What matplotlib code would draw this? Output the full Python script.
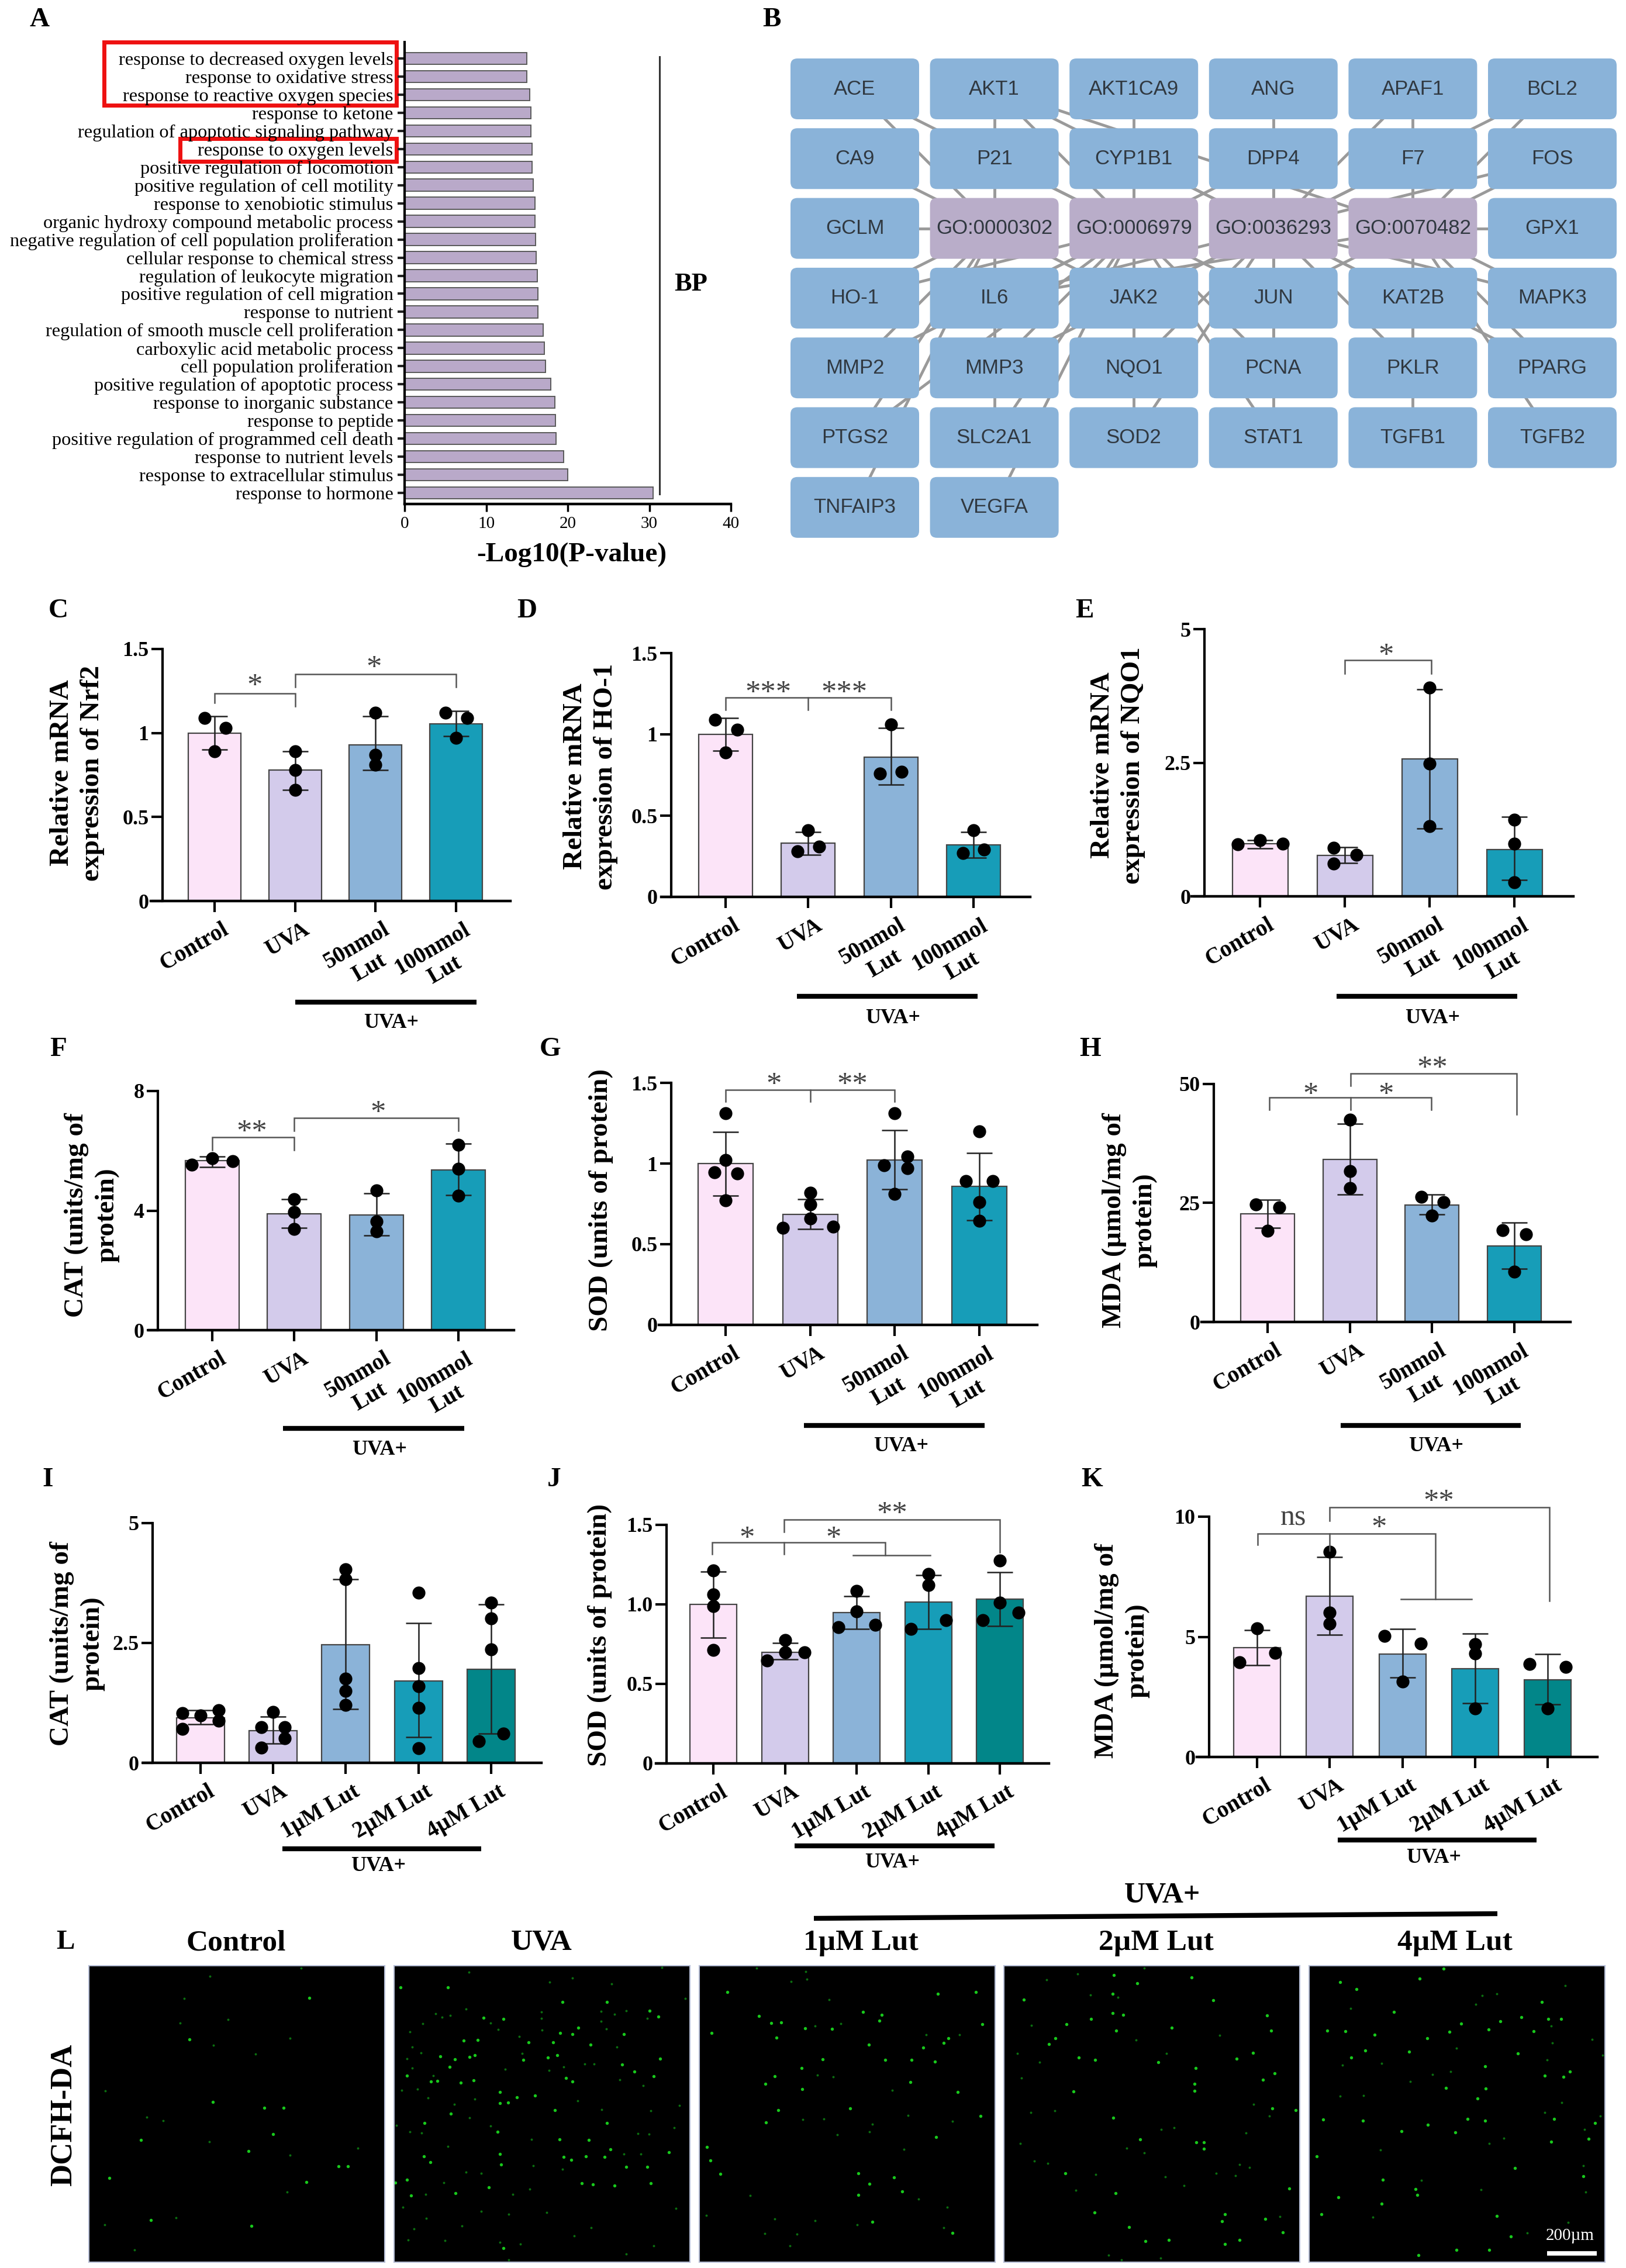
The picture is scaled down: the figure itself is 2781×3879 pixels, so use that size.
import matplotlib
matplotlib.use("Agg")
import matplotlib.pyplot as plt
from matplotlib.patches import FancyBboxPatch, Rectangle
from matplotlib.transforms import ScaledTranslation

plt.rcParams['font.family'] = ['Liberation Serif', 'DejaVu Serif']

W, H = 2781, 3879

# panel A
go_terms = ["response to decreased oxygen levels", "response to oxidative stress",
            "response to reactive oxygen species", "response to ketone",
            "regulation of apoptotic signaling pathway", "response to oxygen levels",
            "positive regulation of locomotion", "positive regulation of cell motility",
            "response to xenobiotic stimulus", "organic hydroxy compound metabolic process",
            "negative regulation of cell population proliferation", "cellular response to chemical stress",
            "regulation of leukocyte migration", "positive regulation of cell migration",
            "response to nutrient", "regulation of smooth muscle cell proliferation",
            "carboxylic acid metabolic process", "cell population proliferation",
            "positive regulation of apoptotic process", "response to inorganic substance",
            "response to peptide", "positive regulation of programmed cell death",
            "response to nutrient levels", "response to extracellular stimulus", "response to hormone"]
go_values = [15.0, 15.0, 15.35, 15.5, 15.5, 15.6, 15.65, 15.8, 16.0, 16.0, 16.05, 16.1, 16.25,
             16.35, 16.35, 17.0, 17.1, 17.3, 17.9, 18.45, 18.5, 18.6, 19.5, 20.0, 30.5]

# panel B
node_grid = [["ACE", "AKT1", "AKT1CA9", "ANG", "APAF1", "BCL2"],
             ["CA9", "P21", "CYP1B1", "DPP4", "F7", "FOS"],
             ["GCLM", "GO:0000302", "GO:0006979", "GO:0036293", "GO:0070482", "GPX1"],
             ["HO-1", "IL6", "JAK2", "JUN", "KAT2B", "MAPK3"],
             ["MMP2", "MMP3", "NQO1", "PCNA", "PKLR", "PPARG"],
             ["PTGS2", "SLC2A1", "SOD2", "STAT1", "TGFB1", "TGFB2"],
             ["TNFAIP3", "VEGFA"]]
go_nodes = ["GO:0000302", "GO:0006979", "GO:0036293", "GO:0070482"]
gene_links = {"ACE": [0, 1], "AKT1": [0, 1, 2, 3], "AKT1CA9": [1], "ANG": [2], "APAF1": [2, 3], "BCL2": [2, 3],
              "CA9": [0], "P21": [0, 1], "CYP1B1": [1, 2], "DPP4": [1, 2], "F7": [2, 3], "FOS": [2, 3],
              "GCLM": [0], "GPX1": [3], "HO-1": [0, 1], "IL6": [0, 1, 2, 3], "JAK2": [0, 1, 2], "JUN": [1, 2, 3],
              "KAT2B": [2, 3], "MAPK3": [2, 3], "MMP2": [0, 1], "MMP3": [0, 1, 2], "NQO1": [1, 2], "PCNA": [1, 2],
              "PKLR": [2, 3], "PPARG": [2, 3], "PTGS2": [0, 1], "SLC2A1": [0, 1], "SOD2": [1, 2], "STAT1": [1, 2],
              "TGFB1": [3], "TGFB2": [3], "TNFAIP3": [0], "VEGFA": [1]}

nmol_labels = ["Control", "UVA", "50nmol\nLut", "100nmol\nLut"]
um_labels = ["Control", "UVA", "1µM Lut", "2µM Lut", "4µM Lut"]

# panel C
C_means = [1.0, 0.78, 0.93, 1.055]
C_low = [0.90, 0.66, 0.78, 0.98]
C_high = [1.10, 0.89, 1.10, 1.13]
C_points = [[1.09, 1.03, 0.89], [0.89, 0.78, 0.66], [1.12, 0.87, 0.81], [1.12, 1.09, 0.97]]
C_jitter = [[-.125, .14, 0], [0, 0, 0], [0, 0, 0], [-.13, .14, 0]]
C_brackets = [([0, 0, 1, 1], [1.18, 1.235, 1.235, 1.16]), ([1, 1, 3, 3], [1.275, 1.35, 1.35, 1.275])]
C_stars = [(.5, 1.31, "*"), (1.98, 1.42, "*")]

# panel D
D_means = [1.0, 0.33, 0.86, 0.32]
D_low = [0.90, 0.26, 0.69, 0.24]
D_high = [1.10, 0.40, 1.04, 0.40]
D_points = [[1.09, 1.03, 0.89], [0.41, 0.31, 0.28], [1.06, 0.76, 0.77], [0.41, 0.29, 0.27]]
D_jitter = [[-.13, .14, 0], [0, .13, -.13], [0, -.13, .13], [0, .13, -.13]]
D_brackets = [([0, 0, 2, 2], [1.15, 1.226, 1.226, 1.15]), ([1, 1], [1.226, 1.15])]
D_stars = [(.52, 1.285, "***"), (1.44, 1.285, "***")]

# panel E
E_means = [0.98, 0.77, 2.57, 0.88]
E_low = [0.90, 0.62, 1.27, 0.31]
E_high = [1.05, 0.92, 3.87, 1.49]
E_points = [[0.97, 1.05, 0.98], [0.91, 0.78, 0.61], [3.91, 2.48, 1.31], [1.43, 0.99, 0.26]]
E_jitter = [[-.26, 0, .27], [-.13, .14, -.13], [0, 0, 0], [0, 0, 0]]
E_brackets = [([1, 1, 2.02, 2.02], [4.17, 4.42, 4.42, 4.17])]
E_stars = [(1.49, 4.6, "*")]

# panel F
F_means = [5.67, 3.89, 3.86, 5.36]
F_low = [5.45, 3.43, 3.16, 4.52]
F_high = [5.8, 4.39, 4.58, 6.24]
F_points = [[5.53, 5.75, 5.65], [4.38, 3.96, 3.38], [4.67, 3.63, 3.3], [6.2, 5.4, 4.5]]
F_jitter = [[-.25, 0, .25], [0, 0, 0], [0, 0, 0], [0, 0, 0]]
F_brackets = [([0, 0, 1, 1], [6.03, 6.45, 6.45, 6.03]), ([1, 1, 3, 3], [6.67, 7.1, 7.1, 6.67])]
F_stars = [(.48, 6.8, "**"), (2.02, 7.45, "*")]

# panel G
G_means = [1.0, 0.685, 1.02, 0.86]
G_low = [0.80, 0.595, 0.84, 0.65]
G_high = [1.195, 0.78, 1.207, 1.065]
G_points = [[1.31, 1.02, .945, .94, .77], [.82, .745, .66, .6, .61], [1.31, 1.045, .99, .97, .81], [1.2, .89, .89, .76, .645]]
G_jitter = [[0, 0, -.13, .14, 0], [0, 0, 0, -.32, .27], [0, .15, -.13, .15, 0], [0, -.16, .16, 0, 0]]
G_brackets = [([0, 0, 2, 2], [1.385, 1.455, 1.455, 1.385]), ([1, 1], [1.455, 1.385])]
G_stars = [(.57, 1.52, "*"), (1.5, 1.52, "**")]

# panel H
H_means = [22.65, 34.1, 24.5, 16.0]
H_low = [19.8, 26.7, 22.6, 11.2]
H_high = [25.6, 41.6, 26.7, 20.9]
H_points = [[24.7, 24.05, 19.2], [42.4, 31.7, 28.1], [26.25, 25.2, 22.3], [19.3, 18.4, 10.5]]
H_jitter = [[-.14, .14, 0], [0, 0, 0], [-.13, .14, 0], [-.14, .14, 0]]
H_brackets = [([.02, .02, 1.99, 1.99], [44.5, 47.1, 47.1, 44.5]), ([1.01, 1.01], [47.1, 44.5]),
              ([1.01, 1.01, 3.03, 3.03], [49.6, 52.1, 52.1, 43.6])]
H_stars = [(.52, 48.8, "*"), (1.44, 48.8, "*"), (2.0, 54.3, "**")]

# panel I
I_means = [.94, .67, 2.46, 1.70, 1.95]
I_low = [.80, .40, 1.12, .53, .61]
I_high = [1.10, .96, 3.82, 2.91, 3.30]
I_points = [[1.10, 1.04, .99, .88, .71], [1.06, .74, .74, .51, .32], [4.03, 3.82, 1.75, 1.5, 1.21],
            [3.54, 1.97, 1.59, 1.14, .31], [3.34, 3.01, 2.36, .61, .45]]
I_jitter = [[.25, -.25, 0, .25, -.25], [0, -.16, .16, .16, -.16], [0, 0, 0, 0, 0], [0, 0, 0, 0, 0], [0, 0, 0, .17, -.17]]

# panel J
J_means = [1.0, .70, .947, 1.013, 1.033]
J_low = [.79, .653, .847, .847, .865]
J_high = [1.205, .756, 1.052, 1.184, 1.202]
J_points = [[1.215, 1.063, .99, .715], [.774, .70, .70, .647], [1.084, .957, .87, .857],
            [1.19, 1.12, .90, .845], [1.275, 1.01, .947, .90]]
J_jitter = [[0, 0, 0, 0], [0, 0, .27, -.25], [0, 0, .26, -.25], [0, 0, .25, -.24], [0, 0, .26, -.24]]
J_brackets = [([-.02, -.02, 2.4, 2.4], [1.318, 1.39, 1.39, 1.31]), ([.99, .99], [1.39, 1.318]), ([1.95, 3.03], [1.31, 1.31]),
              ([.99, .99, 4, 4], [1.455, 1.532, 1.532, 1.327])]
J_stars = [(.47, 1.446, "*"), (1.68, 1.446, "*"), (2.5, 1.60, "**")]

# panel K
K_means = [4.55, 6.69, 4.29, 3.67, 3.20]
K_low = [3.81, 5.08, 3.31, 2.23, 2.18]
K_high = [5.28, 8.33, 5.32, 5.13, 4.29]
K_points = [[5.35, 4.32, 3.94], [8.54, 6.0, 5.54], [5.04, 4.72, 3.15], [4.7, 4.3, 2.03], [3.88, 3.75, 2.03]]
K_jitter = [[0, .25, -.24], [0, 0, 0], [-.25, .25, 0], [0, 0, 0], [-.25, .25, 0]]
K_brackets = [([.01, .01, 2.45, 2.45], [8.83, 9.30, 9.30, 6.57]), ([1, 1], [9.30, 8.6]), ([1.98, 2.95], [6.57, 6.57]),
              ([1, 1, 4.02, 4.02], [9.83, 10.38, 10.38, 6.5])]
K_stars = [(.5, 9.95, "ns"), (1.68, 9.74, "*"), (2.5, 10.83, "**")]

# panel L, spot positions
L_titles = ["Control", "UVA", "1µM Lut", "2µM Lut", "4µM Lut"]
L1_bright = [(592,532),(209,1221),(481,1407),(289,1383),(587,1238),(270,1076),(408,931),(543,953),(506,953),(523,1054),
             (476,1120),(648,1177),(666,1177),(363,690)]
L1_dim = [(577,418),(402,448),(353,533),(345,628),(437,615),(555,685),(409,713),(489,747),(201,887),(281,988),(312,1003),
          (401,1083),(555,1135),(686,1107),(550,1276),(337,1375),(200,1402),(257,1497)]
L2_bright = [(858,492),(767,490),(1163,548),(1245,580),(1262,603),(1195,670),(1013,701),(1060,702),(780,830),(883,857),
             (1097,851),(1085,838),(958,1129),(1080,1142),(1095,1152),(1158,1142),(1200,1180),(1240,1180),(1115,1242),
             (1136,1247),(1178,1252),(1247,1242),(936,1257),(873,1281),(787,1290),(960,1170),(813,1012),(927,607),(965,612),
             (1078,547),(1108,645),(1073,665),(1097,670),(1132,710),(1003,770),(1050,760),(1068,750),(958,893),(990,912),
             (1025,906),(973,932),(958,936),(864,975),(1063,962),(1163,1012),(953,1045),(1072,1074),(1128,1077),(1170,1112),
             (1122,1140),(1282,1123),(812,1140),(825,1162),(780,1228),(757,1240),(1215,813),(1253,832),(907,848),(838,850),
             (826,852),(862,797),(888,695),(915,692),(910,750),(900,757),(872,767),(843,755),(1192,786),(1265,765),(965,1492)]
L2_dim = [(898,433),(1097,455),(1053,470),(1172,477),(1268,415),(1313,533),(893,575),(835,592),(847,605),(863,598),(1037,585),
          (1037,610),(1152,582),(1178,595),(1200,580),(1152,622),(810,630),(785,662),(940,628),(955,652),(995,680),(1162,650),
          (1038,655),(1240,610),(790,720),(807,742),(780,765),(1182,720),(1000,745),(830,830),(790,800),(968,805),(1052,810),
          (1080,795),(1120,785),(1138,785),(1232,867),(1188,845),(770,885),(800,882),(820,915),(910,920),(870,940),(900,990),
          (1107,925),(1153,960),(1247,965),(1302,945),(760,1020),(785,1045),(808,1050),(940,1022),(1222,1052),(1244,1053),
          (1292,1030),(1018,1073),(858,1100),(1195,1130),(1228,1130),(1022,1176),(1078,1188),(893,1200),(922,1205),(850,1240),
          (815,1285),(982,1285),(1015,1265),(772,1335),(922,1350),(975,1360),(1047,1355),(1295,1338),(817,1377),(793,1417),
          (885,1405),(1133,1412),(853,1463),(958,1468),(1100,1445),(1253,1482),(997,1475),(1200,1513),(975,1537),(782,1460)]
L3_bright = [(-152,510),(-92,600),(-68,628),(-49,625),(-182,665),(-58,683),(-3,647),(-10,800),(-62,832),(-80,860),(-9,882),
             (-55,963),(-79,1010),(-192,1103),(-185,1155),(-166,1207),(250,515),(323,510),(107,585),(143,597),(138,618),
             (335,632),(48,650),(270,685),(262,705),(118,710),(222,722),(30,767),(150,770),(200,770),(245,775),(198,855),
             (288,892),(83,955),(332,985),(247,1065),(98,1205),(167,1219),(120,1245),(98,1287),(182,1273),(125,1390),(278,1432)]
L3_dim = [(-109,1290),(-193,1365),(-62,1380),(-19,1438),(-33,1483),(16,1385),(-81,1435),(-30,468),(-2,430),(-96,418),(-8,997),
          (228,672),(292,672),(20,828),(50,833),(163,885),(193,983),(32,995),(278,1005),(125,1015),(120,1045),(58,1055),
          (185,1112),(213,1303),(268,1335),(96,1402),(262,1412),(42,538),(65,630),(15,640),(0,460)]
L4_bright = [(736,452),(415,538),(585,515),(778,540),(587,443),(632,475),(605,597),(585,590),(880,598),(497,632),(698,645),
             (888,658),(475,687),(520,760),(551,769),(672,778),(895,821),(742,860),(742,888),(510,890),(935,962),(890,955),
             (586,992),(638,1075),(760,1085),(745,1085),(760,1110),(591,1280),(550,1355),(800,1360),(794,1388),(877,1380),
             (923,1262),(911,1430),(616,1410),(648,1465),(692,1460),(800,1475),(828,1460),(544,612),(592,657),(463,708),
             (854,742),(822,765),(744,800),(872,845),(495,1205)]
L4_dim = [(518,440),(645,418),(459,462),(542,520),(595,530),(430,637),(630,692),(790,675),(688,745),(403,745),(445,777),(410,838),
          (855,940),(428,970),(474,965),(885,985),(702,1030),(678,1035),(840,1050),(408,1090),(612,1108),(645,1125),(435,1158),
          (461,1165),(828,1170),(847,1182),(783,1205),(820,1212),(553,1208),(686,1218),(722,1252),(515,1270),(577,1518),(602,1535),
          (677,1530),(905,1370)]
L5_bright = [(1218,420),(1172,458),(1020,470),(1052,498),(1406,548),(1123,585),(1327,622),(1367,605),(996,658),(1030,660),(1252,630),
             (1304,653),(1229,662),(1086,673),(1187,685),(1068,733),(1152,737),(1042,760),(1360,745),(1412,830),(1448,833),(1223,877),
             (1299,880),(1283,918),(988,997),(1064,1003),(1188,1018),(1264,995),(1298,1003),(1138,1043),(1430,995),(1241,1047),
             (1496,1072),(1424,1083),(975,1140),(1355,1183),(1102,1228),(1486,1216),(1165,1265),(1168,1288),(1017,1297),(1100,1320),
             (1320,1367),(985,1360),(1347,1447),(1170,1517),(1305,1498),(1243,1497),(1390,660),(1418,612),(1443,612),(1460,815),
             (1298,793),(1508,1012)]
L5_dim = [(1451,485),(1292,522),(1320,515),(1280,555),(1040,572),(1424,640),(1502,690),(1426,705),(1243,725),(1523,752),(1416,770),
          (1100,783),(1025,790),(1197,825),(1232,813),(1155,852),(1065,905),(1020,908),(1444,932),(1412,970),(1518,985),(1488,1037),
          (1334,1070),(1305,1090),(1098,1115),(1290,1268),(1176,1232),(1490,1275),(1083,1372),(1457,1393),(1378,1432),(1486,1175)]

bar_colors = ["#fce4f8", "#d3cbeb", "#8bb3d8", "#179db8", "#028689"]
bar_colors4 = ["#fce4f8", "#d3cbeb", "#8bb3d8", "#179db8"]

fig = plt.figure(figsize=(W / 100, H / 100), dpi=100)

# full-figure layer in image pixels, for panel letters and group labels
canvas = fig.add_axes([0, 0, 1, 1])
canvas.set_xlim(0, W)
canvas.set_ylim(H, 0)
canvas.axis("off")


def make_axes(left, right, base, top):
    return fig.add_axes([left / W, 1 - base / H, (right - left) / W, (base - top) / H], facecolor="none")


def letter(x, y, s):
    canvas.text(x, y, s, fontsize=34, fontweight="bold", ha="center", va="center")


def uva_group(x0, x1, y, tx, ty):
    canvas.plot([x0, x1], [y, y], color="black", lw=6, solid_capstyle="butt")
    canvas.text(tx, ty, "UVA+", fontsize=26, fontweight="bold", ha="center", va="center")


def bar_panel(means, low, high, points, jitter, labels, colors, yticks, yticklabels, ylim,
              yaxis_px, left_px, right_px, base_px, top_px, first_px, pitch_px, width_px,
              ylabel, ylabel_xy, brackets=(), stars=()):
    ax = make_axes(left_px, right_px, base_px, top_px)
    ax.set_xlim((left_px - first_px) / pitch_px, (right_px - first_px) / pitch_px)
    ax.set_ylim(0, ylim)
    xs = list(range(len(means)))

    ax.bar(xs, means, width=width_px / pitch_px, color=colors, edgecolor="#444444", linewidth=1.6, zorder=2, clip_on=False)
    lower = [m - l for m, l in zip(means, low)]
    upper = [h - m for m, h in zip(means, high)]
    ax.errorbar(xs, means, yerr=[lower, upper], fmt="none", ecolor="#222222", elinewidth=1.8,
                capsize=16, capthick=1.8, zorder=3, clip_on=False)
    for i, (vals, jit) in enumerate(zip(points, jitter)):
        ax.plot([i + j for j in jit], vals, "o", color="black", ms=16, mew=0, zorder=4, clip_on=False)

    for bx, by in brackets:
        ax.plot(bx, by, color="#555555", lw=1.8, clip_on=False, zorder=5, solid_joinstyle="miter")
    for sx, sy, s in stars:
        off = -9 if s == "ns" else -17
        size = 36 if s == "ns" else 38
        ax.annotate(s, (sx, sy), xytext=(0, off), textcoords="offset points", ha="center", va="baseline",
                    fontsize=size, color="#444444", annotation_clip=False)

    for side in ["top", "right"]:
        ax.spines[side].set_visible(False)
    ax.spines["left"].set_position(("data", (yaxis_px - first_px) / pitch_px))
    ax.spines["left"].set_linewidth(3)
    ax.spines["bottom"].set_linewidth(3.2)
    ax.set_yticks(yticks, yticklabels, fontsize=26, fontweight="bold")
    ax.tick_params(axis="y", length=14, width=3, pad=3)
    ax.set_xticks(xs, labels, fontsize=28, fontweight="bold", rotation=30, ha="right", va="top",
                  rotation_mode="anchor", multialignment="center")
    ax.tick_params(axis="x", length=14, width=3, pad=8)
    shift = ScaledTranslation(12 / 100, 0, fig.dpi_scale_trans)
    for lab in ax.get_xticklabels():
        lab.set_transform(lab.get_transform() + shift)

    canvas.text(ylabel_xy[0], ylabel_xy[1], ylabel, rotation=90, fontsize=34, fontweight="bold",
                ha="center", va="center", multialignment="center", linespacing=1.3)
    return ax


# A
ax = make_axes(692, 1250, 862, 72)
ypos = list(range(len(go_terms)))
ax.barh(ypos, go_values, height=0.66, color="#b9a9c9", edgecolor="#5a5a5a", linewidth=1.4)
ax.set_xlim(0, 40)
# bar centres run from 100 px to 843 px
pitch = (843 - 100) / 24
ax.set_ylim(24 + (862 - 843) / pitch, -(100 - 72) / pitch)
for side in ["top", "right"]:
    ax.spines[side].set_visible(False)
ax.spines["left"].set_linewidth(3)
ax.spines["bottom"].set_linewidth(3.2)
ax.set_yticks(ypos, go_terms, fontsize=23.3)
ax.set_xticks([0, 10, 20, 30, 40], ["0", "10", "20", "30", "40"], fontsize=21)
ax.tick_params(axis="y", length=9, width=3, pad=5, color="#222222")
ax.tick_params(axis="x", length=9, width=2.5, pad=6)
canvas.add_patch(Rectangle((178, 72), 500, 108, fill=False, edgecolor="#ee1111", lw=5))
canvas.add_patch(Rectangle((308, 237), 370, 39, fill=False, edgecolor="#ee1111", lw=5))
canvas.plot([1128, 1128], [97, 845], color="#333333", lw=2.2)
canvas.text(1182, 486, "BP", fontsize=32, fontweight="bold", ha="center", va="center")
canvas.text(978, 949, "-Log10(P-value)", fontsize=34, fontweight="bold", ha="center", va="center")
letter(68, 34, "A")

# B
box_w, box_h = 220, 104
node_x0, node_y0 = 1352, 100
pitch_x, pitch_y = 238.6, 119.3
node_pos = {}
for r, row in enumerate(node_grid):
    for c, name in enumerate(row):
        node_pos[name] = (node_x0 + c * pitch_x + box_w / 2, node_y0 + r * pitch_y + box_h / 2)
for gene, links in gene_links.items():
    for g in links:
        gx, gy = node_pos[gene]
        tx, ty = node_pos[go_nodes[g]]
        canvas.plot([gx, tx], [gy, ty], color="#9a9a9a", lw=3.5, zorder=1)
for name, (cx, cy) in node_pos.items():
    color = "#b9adc9" if name.startswith("GO:") else "#8ab3d9"
    canvas.add_patch(FancyBboxPatch((cx - box_w / 2 + 8, cy - box_h / 2 + 8), box_w - 16, box_h - 16,
                                    boxstyle="round,pad=8,rounding_size=12", facecolor=color, edgecolor="none", zorder=2))
    canvas.text(cx, cy, name, fontsize=25, family="Liberation Sans", color="#303840",
                ha="center", va="center", zorder=3)
letter(1320, 34, "B")

# C - K
bar_panel(C_means, C_low, C_high, C_points, C_jitter, nmol_labels, bar_colors4, [0, .5, 1, 1.5], ["0", "0.5", "1", "1.5"], 1.5,
          278, 258, 873, 1541, 1110, 367, 137.7, 90, "Relative mRNA\nexpression of Nrf2", (132, 1322), C_brackets, C_stars)
uva_group(505, 815, 1714, 669, 1749)
letter(100, 1045, "C")

bar_panel(D_means, D_low, D_high, D_points, D_jitter, nmol_labels, bar_colors4, [0, .5, 1, 1.5], ["0", "0.5", "1", "1.5"], 1.5,
          1148, 1131, 1762, 1534, 1117, 1241, 141.3, 92, "Relative mRNA\nexpression of HO-1", (1010, 1328), D_brackets, D_stars)
uva_group(1363, 1672, 1704, 1527, 1741)
letter(901, 1045, "D")

bar_panel(E_means, E_low, E_high, E_points, E_jitter, nmol_labels, bar_colors4, [0, 2.5, 5], ["0", "2.5", "5"], 5,
          2060, 2038, 2691, 1533, 1076, 2155, 145, 95, "Relative mRNA\nexpression of NQO1", (1912, 1309), E_brackets, E_stars)
uva_group(2286, 2595, 1704, 2450, 1741)
letter(1855, 1045, "E")

bar_panel(F_means, F_low, F_high, F_points, F_jitter, nmol_labels, bar_colors4, [0, 4, 8], ["0", "4", "8"], 8,
          270, 255, 879, 2275, 1866, 363, 140.3, 92, "CAT (units/mg of\nprotein)", (157, 2078), F_brackets, F_stars)
uva_group(484, 794, 2443, 649, 2479)
letter(100, 1795, "F")

bar_panel(G_means, G_low, G_high, G_points, G_jitter, nmol_labels, bar_colors4, [0, .5, 1, 1.5], ["0", "0.5", "1", "1.5"], 1.5,
          1148, 1127, 1774, 2266, 1852, 1241, 144.7, 94, "SOD (units of protein)", (1028, 2052), G_brackets, G_stars)
uva_group(1375, 1684, 2438, 1541, 2474)
letter(941, 1795, "G")

bar_panel(H_means, H_low, H_high, H_points, H_jitter, nmol_labels, bar_colors4, [0, 25, 50], ["0", "25", "50"], 50,
          2076, 2055, 2686, 2261, 1853.5, 2168, 140.7, 92, "MDA (µmol/mg of\nprotein)", (1932, 2087), H_brackets, H_stars)
uva_group(2293, 2601, 2438, 2456, 2473)
letter(1865, 1795, "H")

bar_panel(I_means, I_low, I_high, I_points, I_jitter, um_labels, bar_colors, [0, 2.5, 5], ["0", "2.5", "5"], 5,
          261, 245, 926, 3015, 2604.6, 343, 124.2, 82, "CAT (units/mg of\nprotein)", (132, 2811))
uva_group(483, 823, 3162, 647, 3192)
letter(82, 2531, "I")

bar_panel(J_means, J_low, J_high, J_points, J_jitter, um_labels, bar_colors, [0, .5, 1, 1.5], ["0", "0.5", "1.0", "1.5"], 1.5,
          1140, 1122, 1794, 3016, 2608, 1220, 122.5, 80, "SOD (units of protein)", (1026, 2796), J_brackets, J_stars)
uva_group(1359, 1701, 3157, 1526, 3186)
letter(948, 2531, "J")

bar_panel(K_means, K_low, K_high, K_points, K_jitter, um_labels, bar_colors, [0, 5, 10], ["0", "5", "10"], 10,
          2068, 2047, 2732, 3005, 2594, 2150, 124.3, 80, "MDA (µmol/mg of\nprotein)", (1919, 2823), K_brackets, K_stars)
uva_group(2288, 2628, 3147, 2452, 3177)
letter(1868, 2531, "K")

# L
image_boxes = [(152, 658, (170, 737), L1_bright, L1_dim), (674, 1180, (755, 1322), L2_bright, L2_dim),
               (1196, 1702, (-206, 360), L3_bright, L3_dim), (1717, 2223, (377, 943), L4_bright, L4_dim),
               (2239, 2745, (961, 1527), L5_bright, L5_dim)]
title_x = [404, 926, 1472, 1977, 2488]
for (x0, x1, lim, bright, dim), title, tx in zip(image_boxes, L_titles, title_x):
    ax = make_axes(x0, x1, 3869, 3362)
    ax.set_facecolor("black")
    ax.set_xlim(lim)
    ax.set_ylim(1545, 408)
    ax.scatter([p[0] for p in dim], [p[1] for p in dim], s=8, color="#0b6e10", linewidths=0)
    ax.scatter([p[0] for p in bright], [p[1] for p in bright], s=15, color="#18c81c", linewidths=0)
    ax.set_xticks([])
    ax.set_yticks([])
    for sp in ax.spines.values():
        sp.set_edgecolor("#b4bcd4")
        sp.set_linewidth(1.5)
    canvas.text(tx, 3323, title, fontsize=37, fontweight="bold", ha="center", va="center")
canvas.plot([1392, 2561], [3281, 3273], color="black", lw=6, solid_capstyle="butt")
canvas.text(1988, 3242, "UVA+", fontsize=36, fontweight="bold", ha="center", va="center")
canvas.text(109, 3617, "DCFH-DA", rotation=90, fontsize=38, fontweight="bold", ha="center", va="center")
letter(112, 3322, "L")

# scale bar sits on top of the last micrograph
top = fig.add_axes([0, 0, 1, 1], facecolor="none")
top.set_xlim(0, W)
top.set_ylim(H, 0)
top.axis("off")
top.plot([2646, 2731], [3854, 3854], color="white", lw=5.5, solid_capstyle="butt")
top.text(2685, 3824, "200µm", color="white", fontsize=21, ha="center", va="center")

fig.savefig("out.png", dpi=100, facecolor="white")
